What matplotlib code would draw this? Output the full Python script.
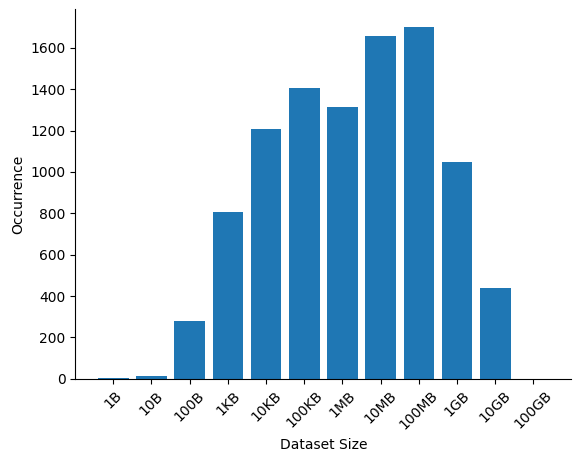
import matplotlib
matplotlib.use('Agg')
import matplotlib.pyplot as plt

sizes = ['1B', '10B', '100B', '1KB', '10KB', '100KB', '1MB', '10MB', '100MB', '1GB', '10GB', '100GB']
counts = [2, 15, 280, 807, 1208, 1406, 1315, 1658, 1701, 1049, 440, 1]

fig = plt.figure(figsize=(5.8, 4.62), dpi=100)
ax = fig.add_axes([0.13, 0.18, 0.855, 0.80])
ax.bar(range(len(sizes)), counts, color='#1f77b4')
ax.set_xticks(range(len(sizes)))
ax.set_xticklabels(sizes, rotation=45)
ax.set_xlabel('Dataset Size')
ax.set_ylabel('Occurrence')
ax.spines['top'].set_visible(False)
ax.spines['right'].set_visible(False)
fig.savefig('out.png', dpi=100)
